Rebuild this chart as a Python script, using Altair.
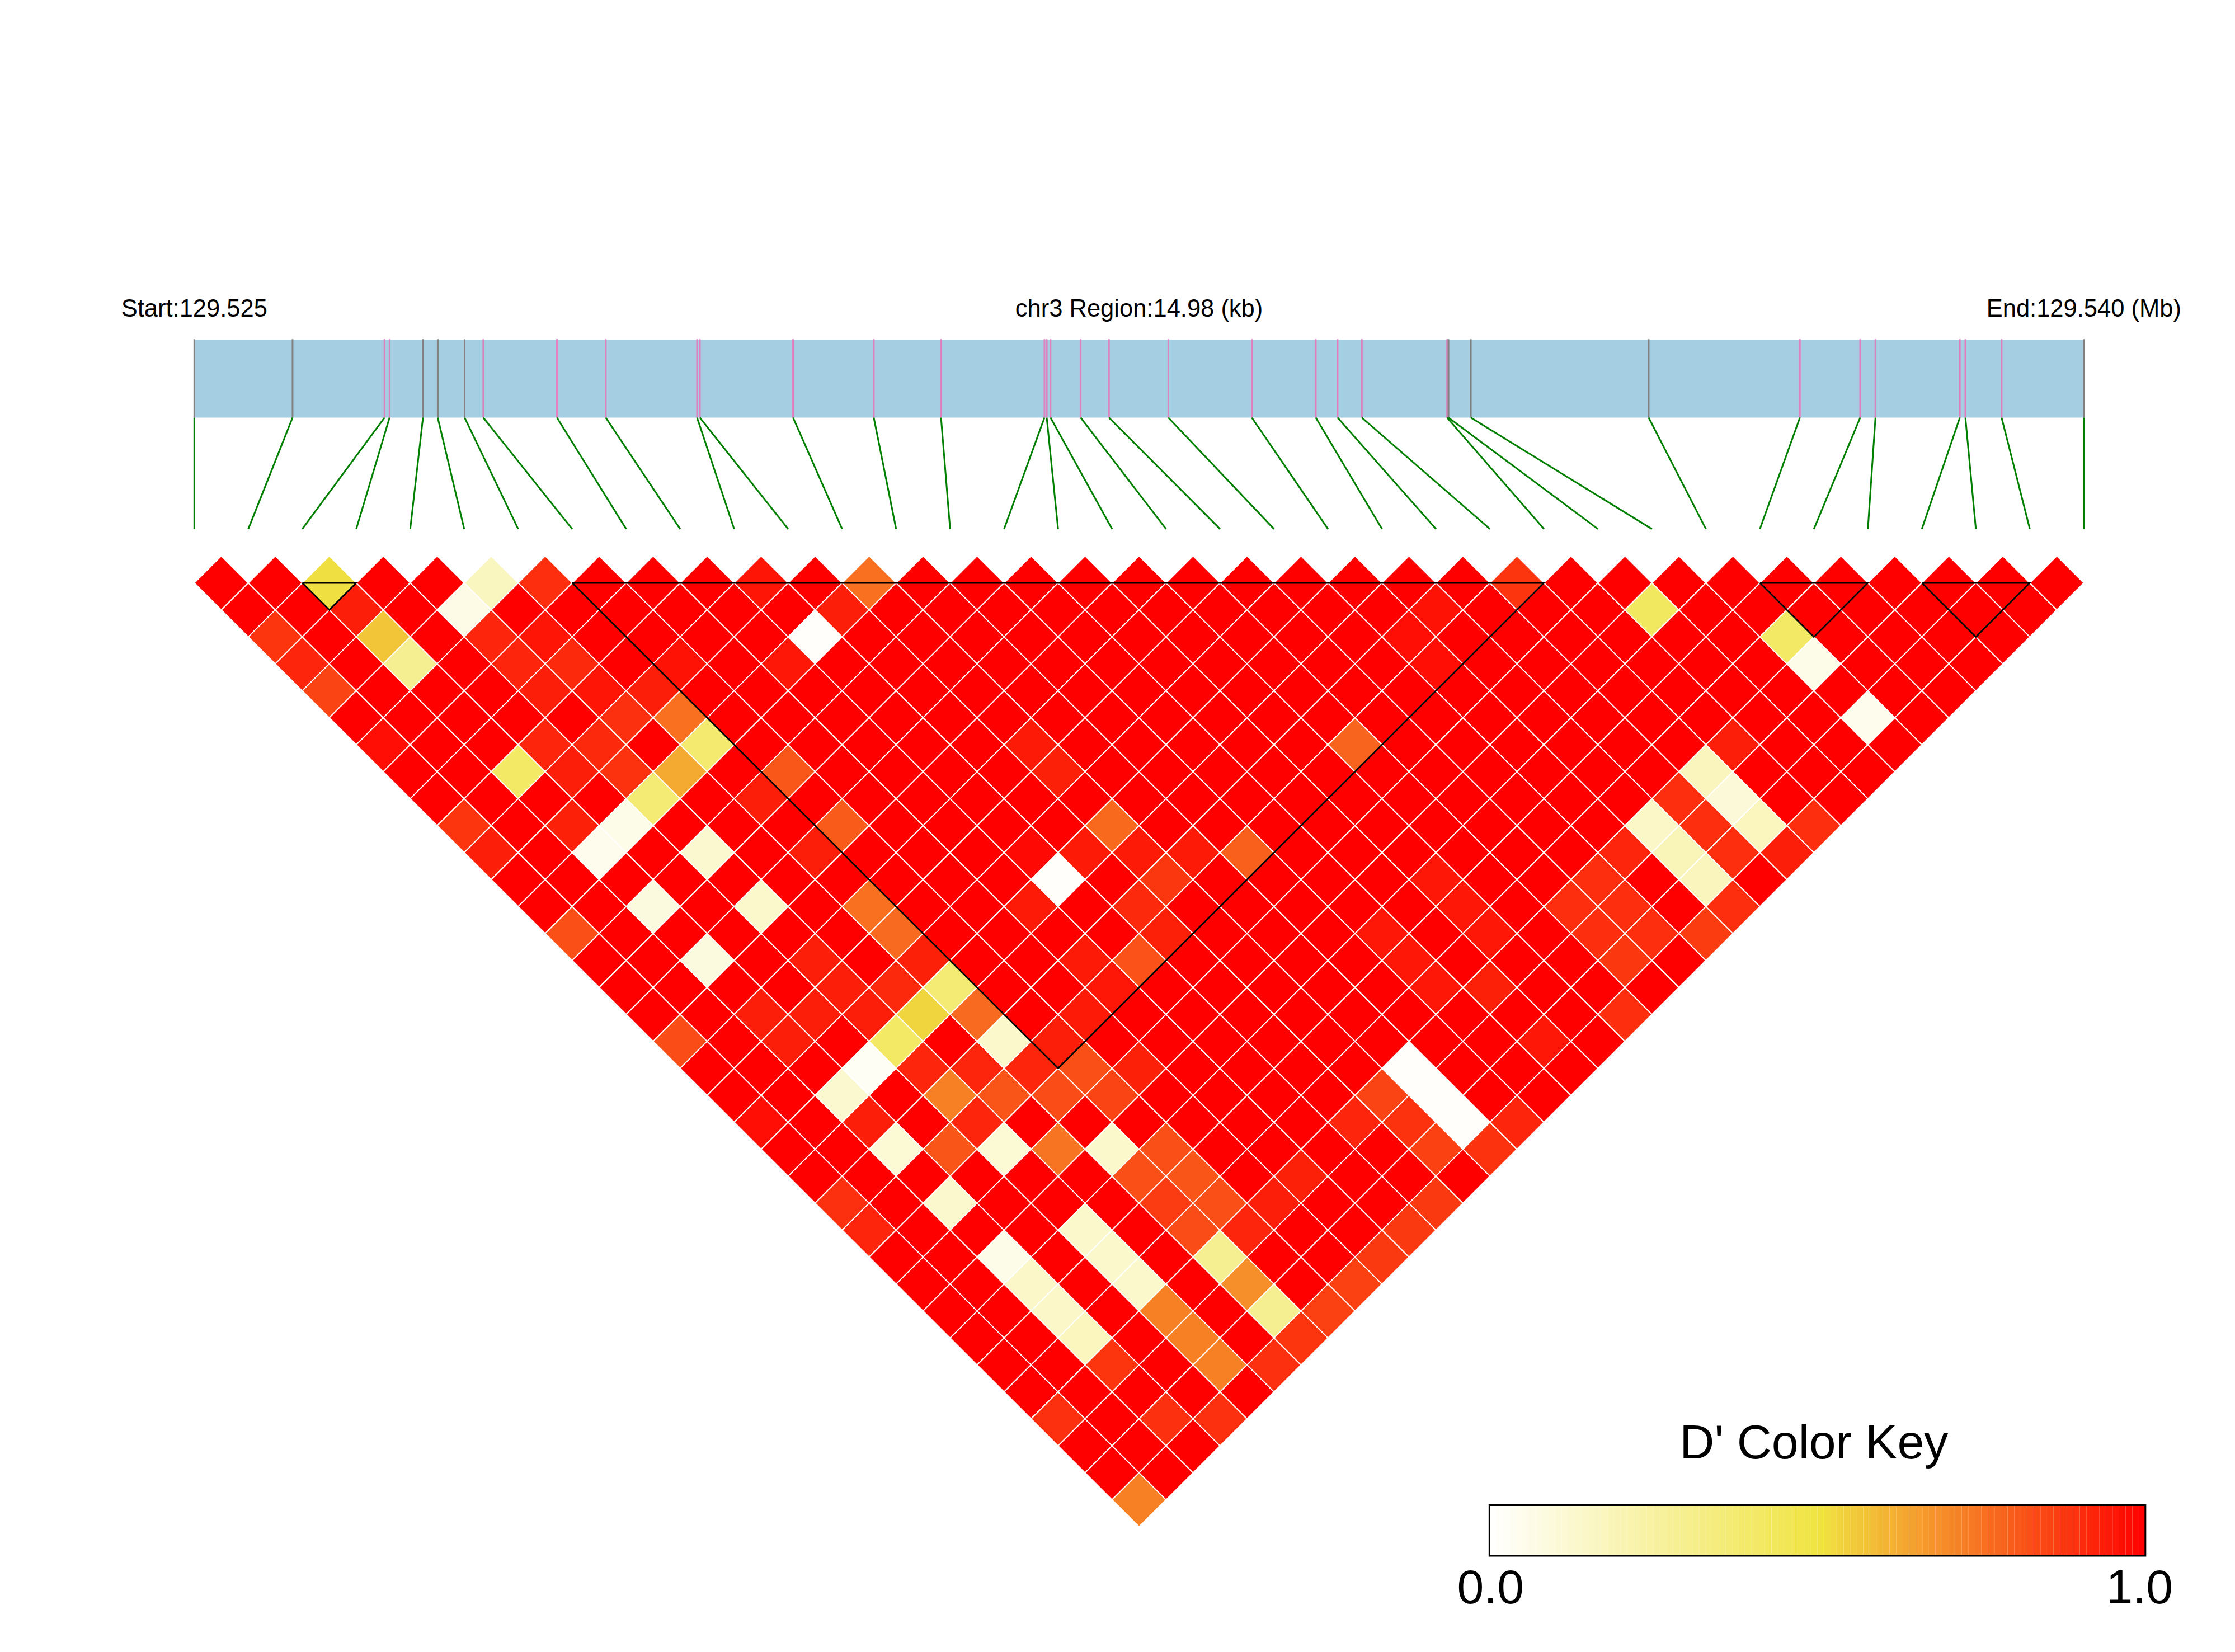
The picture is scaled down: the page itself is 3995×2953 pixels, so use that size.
import altair as alt
import pandas as pd

# SNP positions along the 14.98 kb region (kb from region start)
snp_kb = [0.000, 0.779, 1.508, 1.548, 1.813, 1.930, 2.143, 2.291, 2.875, 3.262, 3.986, 4.008,
          4.747, 5.387, 5.920, 6.740, 6.758, 6.788, 7.027, 7.251, 7.722, 8.384, 8.891, 9.064,
          9.256, 9.932, 9.943, 10.120, 11.530, 12.729, 13.207, 13.328, 13.997, 14.041, 14.328, 14.980]
gray_snps = [0, 1, 4, 5, 6, 26, 27, 28, 35]
region_kb = 14.98

# D' values that differ from 1.0 as (i, j, D')
low_cells = [
    (2,3,.51),(5,6,.166),(6,7,.90),(10,11,.954),(12,13,.755),(24,25,.884),
    (4,6,.066),(0,3,.884),(0,4,.919),(0,5,.85),(2,5,.568),(2,6,.29),(2,4,.934),
    (4,7,.919),(4,8,.919),(5,9,.91),(4,9,.934),(5,8,.954),(5,10,.954),(5,11,.895),
    (6,12,.755),(6,11,.934),(6,13,.38),(5,13,.63),(4,13,.365),(3,13,.06),(2,13,.05),
    (2,10,.41),(4,12,.89),(3,11,.934),(3,10,.919),(4,11,.91),(2,12,.93),(0,10,.884),
    (0,11,.934),(4,15,.124),(7,15,.81),(6,15,.934),(7,11,.96),(0,7,.97),
    (10,13,.01),(9,13,.95),(11,13,.934),
    (10,22,.01),(2,15,.088),(4,17,.135),(2,17,.088),(0,14,.825),(6,19,.755),(6,20,.767),
    (6,22,.365),(5,22,.533),(4,22,.41),(3,22,.026),(2,22,.124),(6,23,.767),(6,24,.135),
    (4,24,.72),(5,25,.813),(6,26,.833),(7,26,.825),(7,27,.85),(2,24,.11),(3,25,.813),
    (4,26,.11),(5,27,.743),(6,28,.135),(2,26,.13),(0,24,.895),(0,18,.833),(2,23,.934),
    (0,21,.97),(2,19,.934),(3,20,.934),(2,20,.934),(4,21,.934),(4,19,.934),(4,20,.934),
    (5,21,.91),(4,23,.919),(5,24,.919),(6,25,.919),(7,25,.934),(4,25,.919),(7,17,.8),
    (6,17,.934),(12,22,.77),(14,25,.79),(18,25,.78),(10,25,.82),(12,24,.88),
    (0,35,.72),(2,34,.895),(3,35,.895),(0,32,.895),(2,32,.884),(4,34,.72),(4,33,.72),
    (4,32,.72),(4,31,.135),(4,30,.135),(4,29,.135),(2,31,.172),(2,30,.145),(2,29,.145),
    (2,28,.06),(6,32,.29),(6,33,.686),(6,34,.29),(0,25,.919),(6,35,.884),(7,35,.86),
    (8,35,.86),(9,35,.875),(5,35,.895),(7,29,.825),(6,29,.825),(6,30,.87),(7,30,.813),
    (7,31,.825),(6,31,.833),(7,32,.919),(8,32,.934),(9,32,.93),(11,32,.919),(12,32,.85),
    (13,32,.01),(13,33,.01),(13,34,.01),(12,33,.89),(12,34,.86),(13,35,.89),(11,35,.875),
    (10,35,.875),(14,35,.919),(18,35,.9),
    (26,28,.42),(28,31,.41),(28,32,.06),(28,34,.05),(25,32,.935),(24,32,.177),(24,33,.103),
    (24,34,.172),(25,35,.9),(24,35,.934),(23,32,.9),(23,33,.9),(23,34,.9),(22,32,.15),
    (22,33,.187),(22,34,.177),(22,35,.9),(21,35,.868),(21,32,.919),(20,32,.9),(19,32,.9),
    (20,33,.9),(19,33,.9),(20,34,.9),(19,34,.88),(17,31,.95),(17,30,.95),(17,29,.95),
    (16,32,.93),(15,31,.95),(15,30,.95),(15,29,.95),(16,34,.95),
    (12,19,.94),(12,20,.93),(11,22,.94),(9,22,.94),(10,21,.98),(12,23,.94),(9,24,.94),
    (6,21,.93),(22,24,.96),(21,24,.97),(21,25,.97),(13,24,.94),(11,24,.91),(11,25,.93),
    (9,25,.95),(8,25,.94),(8,27,.93),
]

block_start = [2, 7, 29, 32]
block_end = [3, 25, 31, 34]

title_texts = ["Start:129.525", "chr3 Region:14.98 (kb)", "End:129.540 (Mb)"]
title_end_x = [0, 17.5, 35]

key_title = "D' Color Key"
key_labels = ["0.0", "1.0"]
key_steps = 100

# ---- layout, in the same units as the scales: x = SNP index, y = LD row ----
W, H = 3979, 2937
STEP_X, STEP_Y = 96.5, 48.2
X0 = -(347.3 - 8) / STEP_X
Y0 = 1 + (8 - 1042) / STEP_Y
xs = alt.Scale(domain=[X0, X0 + W / STEP_X])
ys = alt.Scale(domain=[Y0 + H / STEP_Y, Y0])
fill_scale = alt.Scale(domain=[0, 0.5, 1], range=["#FFFFFF", "#F0E442", "#FF0000"], interpolate="rgb")

STRIP_TOP, STRIP_BOT, SPOKE_BOT, TITLE_Y = -8.01, -5.13, -1.0, -8.87
KEY_L, KEY_R, KEY_T, KEY_B = 23.99, 36.14, 35.2, 37.08
KEY_TITLE_Y, KEY_LABEL_Y = 33.47, 38.84
KEY_TITLE_X, KEY_LABEL_X0, KEY_LABEL_X1 = 30.0, 24.01, 36.03

n = len(snp_kb)
lookup = {(i, j): v for i, j, v in low_cells}
cells = pd.DataFrame([
    {"c": (i + j) / 2, "r": j - i, "v": lookup.get((i, j), 1.0)}
    for i in range(n) for j in range(i + 1, n)
])

snp = pd.DataFrame({
    "pos": [k / region_kb * (n - 1) for k in snp_kb],
    "idx": list(range(n)),
    "col": ["gray" if i in gray_snps else "pink" for i in range(n)],
})
snp["top"], snp["bot"], snp["end"] = STRIP_TOP - 0.03, STRIP_BOT, SPOKE_BOT

X = lambda f: alt.X(f, scale=xs, axis=None)
Y = lambda f: alt.Y(f, scale=ys, axis=None)

strip = alt.Chart(pd.DataFrame({"a": [0], "b": [n - 1], "t": [STRIP_TOP], "u": [STRIP_BOT]})).mark_rect(
    color="#A6CEE3").encode(x=X("a:Q"), x2="b:Q", y=Y("t:Q"), y2="u:Q")

ticks = alt.Chart(snp).mark_rule(strokeWidth=3).encode(
    x=X("pos:Q"), y=Y("top:Q"), y2="bot:Q",
    color=alt.Color("col:N", scale=alt.Scale(domain=["gray", "pink"], range=["#808080", "#E07FBD"]), legend=None),
)

spokes = alt.Chart(snp).mark_rule(color="#008000", strokeWidth=3).encode(
    x=X("pos:Q"), x2="idx:Q", y=Y("bot:Q"), y2="end:Q")

heat = alt.Chart(cells).mark_point(
    shape="diamond", filled=True, size=STEP_X ** 2, stroke="white", strokeWidth=2, opacity=1
).encode(
    x=X("c:Q"), y=Y("r:Q"),
    fill=alt.Fill("v:Q", scale=fill_scale, legend=None),
)

block_rows = []
for b, (a, e) in enumerate(zip(block_start, block_end)):
    for o, (px, py) in enumerate([(a, 1), (e, 1), ((a + e) / 2, 1 + e - a), (a, 1)]):
        block_rows.append({"b": b, "o": o, "x": px, "y": py})
blocks = alt.Chart(pd.DataFrame(block_rows)).mark_line(color="black", strokeWidth=2.8).encode(
    x=X("x:Q"), y=Y("y:Q"), detail="b:N", order="o:Q")

titles = alt.Chart(pd.DataFrame({"x": title_end_x, "y": [TITLE_Y] * 3, "t": title_texts})).mark_text(
    font="Liberation Sans", fontSize=43.5, align="center", baseline="alphabetic", color="black"
).encode(x=X("x:Q"), y=Y("y:Q"), text="t:N")

dk = (KEY_R - KEY_L) / key_steps
key = pd.DataFrame([
    {"a": KEY_L + s * dk, "b": KEY_L + (s + 1) * dk, "t": KEY_T, "u": KEY_B, "v": (s + 0.5) / key_steps}
    for s in range(key_steps)
])
key_bar = alt.Chart(key).mark_rect().encode(
    x=X("a:Q"), x2="b:Q", y=Y("t:Q"), y2="u:Q", fill=alt.Fill("v:Q", scale=fill_scale, legend=None))
key_box = alt.Chart(pd.DataFrame({"a": [KEY_L], "b": [KEY_R], "t": [KEY_T], "u": [KEY_B]})).mark_rect(
    fillOpacity=0, stroke="black", strokeWidth=3).encode(x=X("a:Q"), x2="b:Q", y=Y("t:Q"), y2="u:Q")

key_texts = alt.Chart(pd.DataFrame({
    "x": [KEY_TITLE_X, KEY_LABEL_X0, KEY_LABEL_X1],
    "y": [KEY_TITLE_Y, KEY_LABEL_Y, KEY_LABEL_Y],
    "t": [key_title] + key_labels,
})).mark_text(font="Liberation Sans", fontSize=86, align="center", baseline="alphabetic", color="black").encode(
    x=X("x:Q"), y=Y("y:Q"), text="t:N")

chart = alt.layer(strip, ticks, spokes, heat, blocks, titles, key_bar, key_box, key_texts).properties(
    width=W, height=H, padding=0, autosize="none", background="white"
).configure_view(strokeWidth=0)

chart.save("out.html", embed_options={"renderer": "svg", "actions": False})
